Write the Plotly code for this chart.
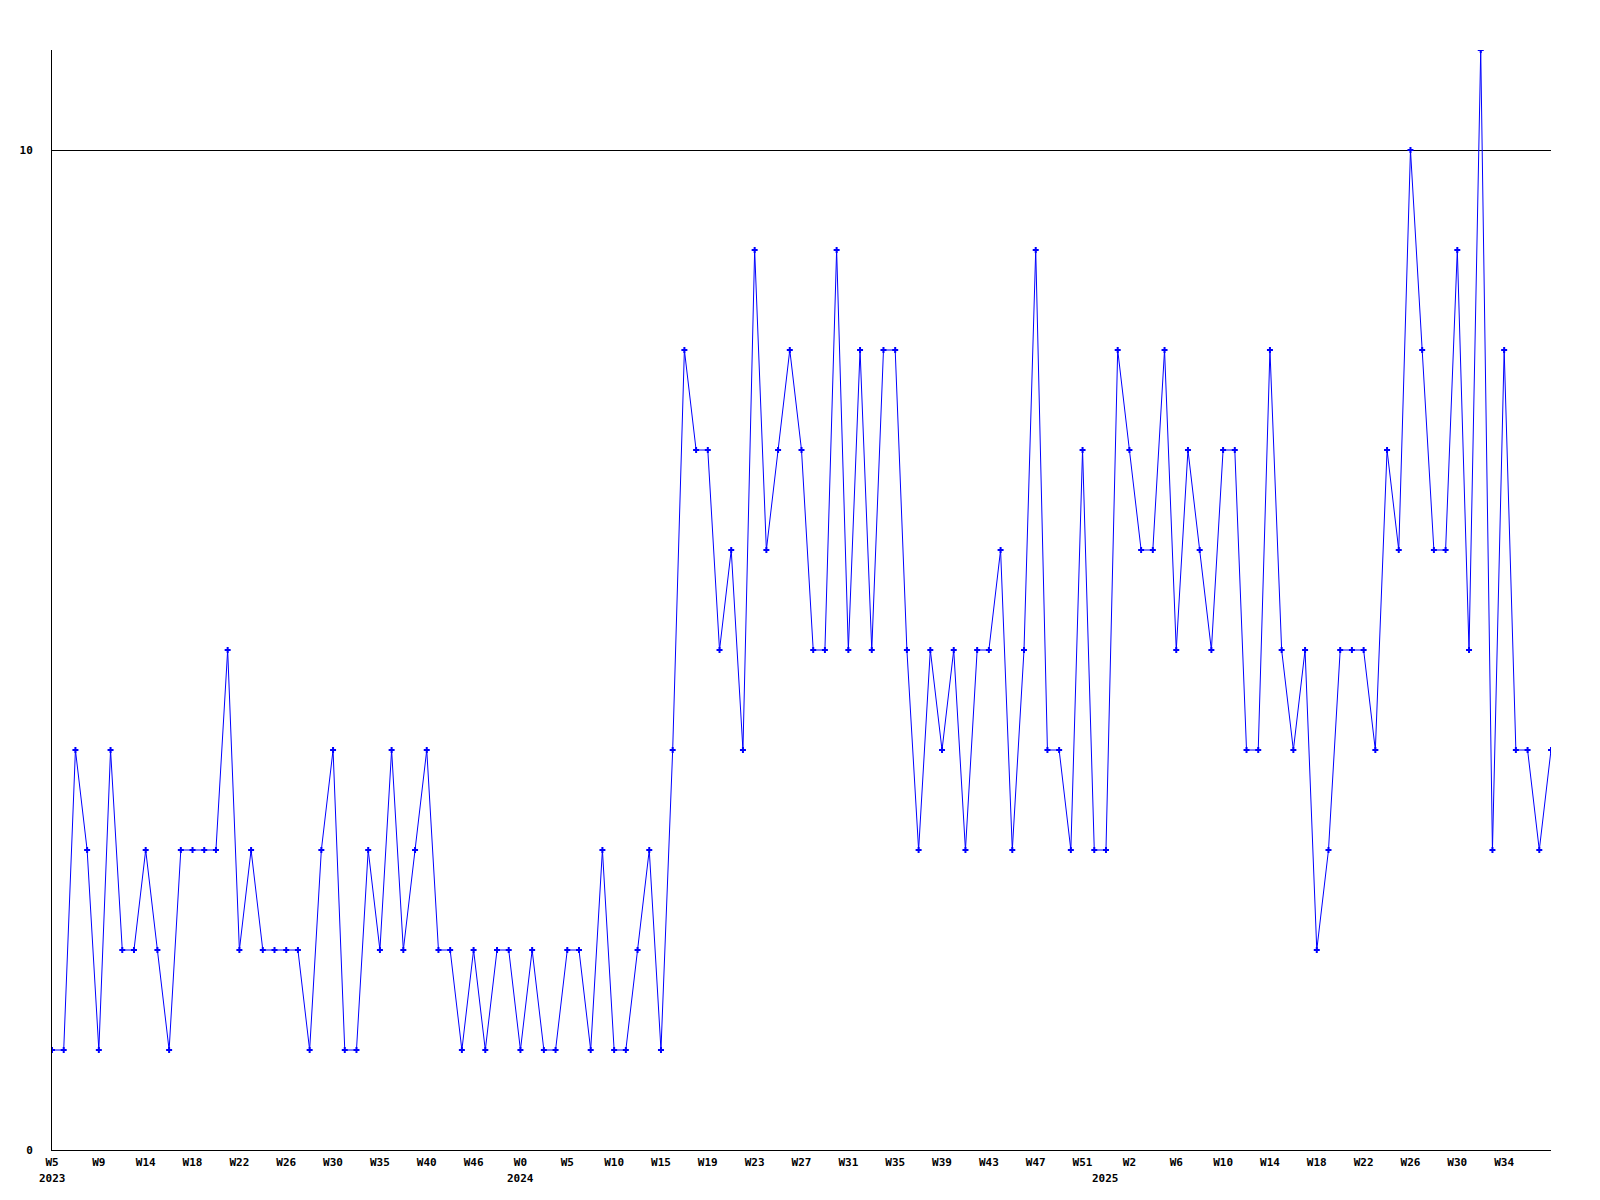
import plotly.graph_objects as go

# Week categories (year-week), in order as plotted
weeks = [
    "2023-W5", "2023-W6", "2023-W7", "2023-W8", "2023-W9", "2023-W10", "2023-W11", "2023-W12",
    "2023-W14", "2023-W15", "2023-W16", "2023-W17", "2023-W18", "2023-W19", "2023-W20", "2023-W21",
    "2023-W22", "2023-W23", "2023-W24", "2023-W25", "2023-W26", "2023-W27", "2023-W28", "2023-W29",
    "2023-W30", "2023-W31", "2023-W32", "2023-W33", "2023-W35", "2023-W36", "2023-W37", "2023-W38",
    "2023-W40", "2023-W41", "2023-W42", "2023-W43", "2023-W46", "2023-W47", "2023-W48", "2023-W50",
    "2024-W0", "2024-W1", "2024-W2", "2024-W3", "2024-W5", "2024-W6", "2024-W7", "2024-W8",
    "2024-W10", "2024-W11", "2024-W12", "2024-W13", "2024-W15", "2024-W16", "2024-W17", "2024-W18",
    "2024-W19", "2024-W20", "2024-W21", "2024-W22", "2024-W23", "2024-W24", "2024-W25", "2024-W26",
    "2024-W27", "2024-W28", "2024-W29", "2024-W30", "2024-W31", "2024-W32", "2024-W33", "2024-W34",
    "2024-W35", "2024-W36", "2024-W37", "2024-W38", "2024-W39", "2024-W40", "2024-W41", "2024-W42",
    "2024-W43", "2024-W44", "2024-W45", "2024-W46", "2024-W47", "2024-W48", "2024-W49", "2024-W50",
    "2024-W51", "2024-W52", "2025-W0", "2025-W1", "2025-W2", "2025-W3", "2025-W4", "2025-W5",
    "2025-W6", "2025-W7", "2025-W8", "2025-W9", "2025-W10", "2025-W11", "2025-W12", "2025-W13",
    "2025-W14", "2025-W15", "2025-W16", "2025-W17", "2025-W18", "2025-W19", "2025-W20", "2025-W21",
    "2025-W22", "2025-W23", "2025-W24", "2025-W25", "2025-W26", "2025-W27", "2025-W28", "2025-W29",
    "2025-W30", "2025-W31", "2025-W32", "2025-W33", "2025-W34", "2025-W35", "2025-W36", "2025-W37",
    "2025-W38",
]

counts = [
    1, 1, 4, 3, 1, 4, 2, 2, 3, 2, 1, 3, 3, 3, 3, 5,
    2, 3, 2, 2, 2, 2, 1, 3, 4, 1, 1, 3, 2, 4, 2, 3,
    4, 2, 2, 1, 2, 1, 2, 2, 1, 2, 1, 1, 2, 2, 1, 3,
    1, 1, 2, 3, 1, 4, 8, 7, 7, 5, 6, 4, 9, 6, 7, 8,
    7, 5, 5, 9, 5, 8, 5, 8, 8, 5, 3, 5, 4, 5, 3, 5,
    5, 6, 3, 5, 9, 4, 4, 3, 7, 3, 3, 8, 7, 6, 6, 8,
    5, 7, 6, 5, 7, 7, 4, 4, 8, 5, 4, 5, 2, 3, 5, 5,
    5, 4, 7, 6, 10, 8, 6, 6, 9, 5, 11, 3, 8, 4, 4, 3,
    4,
]

# x tick labels (every 4th week, last week unlabelled)
tick_weeks = weeks[:-1:4]
tick_labels = [w.split("-")[1] for w in tick_weeks]

# year labels and the week they sit under
year_labels = ["2023", "2024", "2025"]
year_weeks = ["2023-W5", "2024-W0", "2025-W0"]

y_ticks = [0, 10]

font_family = "DejaVu Sans Mono"

fig = go.Figure()
fig.add_trace(go.Scatter(
    x=weeks, y=counts,
    mode="lines+markers",
    line=dict(color="#0000FF", width=1),
    marker=dict(symbol="cross", size=5, color="#0000FF", line=dict(width=0)),
    showlegend=False,
))

for yl, yw in zip(year_labels, year_weeks):
    fig.add_annotation(
        x=yw, y=0, xref="x", yref="paper",
        text=yl, showarrow=False, yanchor="top", yshift=-20,
        font=dict(family=font_family, size=11, color="black", weight="bold"),
    )

fig.update_layout(
    width=1600, height=1200,
    margin=dict(l=42, r=57, t=42, b=58),
    plot_bgcolor="white", paper_bgcolor="white",
    xaxis=dict(
        type="category",
        range=[0, len(weeks) - 1],
        tickmode="array", tickvals=tick_weeks, ticktext=tick_labels,
        showgrid=False, zeroline=False,
        showline=True, linecolor="black", linewidth=1,
        ticks="", ticklabelstandoff=2,
        tickfont=dict(family=font_family, size=11, color="black", weight="bold"),
    ),
    yaxis=dict(
        range=[0, 11],
        tickmode="array", tickvals=y_ticks,
        showgrid=True, gridcolor="black", gridwidth=1,
        zeroline=False,
        showline=True, linecolor="black", linewidth=1,
        ticks="", ticklabelstandoff=16,
        tickfont=dict(family=font_family, size=11, color="black", weight="bold"),
    ),
)

fig.write_html("out.html")
